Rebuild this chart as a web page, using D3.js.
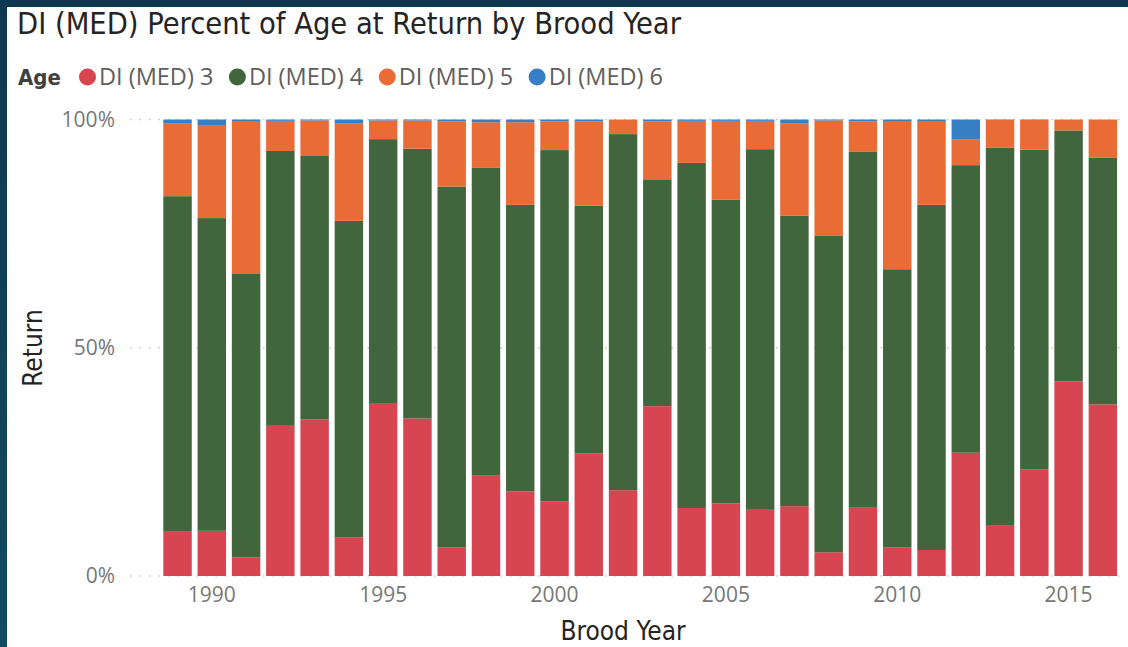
<!DOCTYPE html>
<html>
<head>
<meta charset="utf-8">
<script src="https://cdn.jsdelivr.net/npm/d3@7"></script>
<style>
  body { margin: 0; background: #0f3b52; }
  svg { display: block; }
</style>
</head>
<body>
<div id="chart"></div>
<script>
// brood years and the share of each age at return (percent)
const years = d3.range(1989, 2017)
const age3 = [9.7, 9.9, 4.1, 32.9, 34.3, 8.5, 37.9, 34.5, 6.3, 22.1, 18.5, 16.3, 26.9, 18.8, 37.2, 14.9, 15.9, 14.5, 15.3, 5.2, 15.1, 6.3, 5.7, 27.0, 11.0, 23.4, 42.6, 37.6]
const age4 = [73.5, 68.5, 62.2, 60.2, 57.7, 69.3, 57.8, 59.1, 79.0, 67.3, 62.8, 77.0, 54.2, 78.0, 49.7, 75.6, 66.5, 79.0, 63.6, 69.3, 77.8, 60.9, 75.6, 63.0, 82.8, 70.0, 55.0, 54.0]
const age5 = [16.0, 20.4, 33.2, 6.6, 7.8, 21.4, 4.1, 6.2, 14.3, 10.0, 18.1, 6.3, 18.5, 3.2, 12.7, 9.2, 17.3, 6.2, 20.2, 25.3, 6.7, 32.3, 18.2, 5.6, 6.1, 6.5, 2.4, 8.4]
const age6 = [0.8, 1.2, 0.5, 0.3, 0.2, 0.8, 0.2, 0.2, 0.4, 0.6, 0.6, 0.4, 0.4, 0.0, 0.4, 0.3, 0.3, 0.3, 0.9, 0.2, 0.4, 0.5, 0.5, 4.4, 0.1, 0.1, 0.0, 0.0]
const seriesNames = ["DI (MED) 3", "DI (MED) 4", "DI (MED) 5", "DI (MED) 6"]
const seriesColors = ["#d64550", "#41653d", "#e96b36", "#377fc5"]
const yTicks = [0, 0.5, 1]
const xTickYears = [1990, 1995, 2000, 2005, 2010, 2015]

const W = 1128, H = 647
const titleFont = "'DejaVu Sans Condensed', 'DejaVu Sans', sans-serif"
const labelFont = "'Open Sans', sans-serif"

const svg = d3.select("#chart").append("svg")
    .attr("width", W)
    .attr("height", H)

// dark frame gradient + white card
const grad = svg.append("defs").append("linearGradient")
    .attr("id", "bg").attr("x1", 0).attr("y1", 0).attr("x2", 0).attr("y2", 1)
grad.append("stop").attr("offset", "0%").attr("stop-color", "#0e3850")
grad.append("stop").attr("offset", "100%").attr("stop-color", "#134b62")
svg.append("rect").attr("width", W).attr("height", H).attr("fill", "url(#bg)")
svg.append("rect").attr("x", 7).attr("y", 7).attr("width", W - 7).attr("height", H - 7).attr("fill", "#fff")

// title
svg.append("text")
    .attr("x", 17).attr("y", 34)
    .attr("font-family", titleFont)
    .attr("font-size", 30.5)
    .attr("fill", "#252423")
    .text("DI (MED) Percent of Age at Return by Brood Year")

// legend
const legend = svg.append("g").attr("transform", "translate(18,85)")
legend.append("text")
    .attr("font-family", titleFont)
    .attr("font-weight", "bold")
    .attr("font-size", 22)
    .attr("fill", "#404040")
    .text("Age")
let lx = 69.5
seriesNames.forEach(function(name, i) {
    legend.append("circle")
        .attr("cx", lx).attr("cy", -8).attr("r", 8.5)
        .attr("fill", seriesColors[i])
    const t = legend.append("text")
        .attr("x", lx + 11.5)
        .attr("font-family", labelFont)
        .attr("font-size", 23.5)
        .attr("fill", "#605e5c")
        .text(name)
    lx += 11.5 + t.node().getComputedTextLength() + 24
})

// plot setup
const plotLeft = 160.4, plotRight = 1120, plotTop = 119.5, plotBottom = 576

const x = d3.scaleBand()
    .domain(years)
    .range([plotLeft, plotRight])
    .paddingInner(0.17)
    .paddingOuter(0.085)

const y = d3.scaleLinear()
    .domain([0, 1])
    .range([plotBottom, plotTop])

// dotted gridlines
svg.append("g")
    .selectAll("line")
    .data(yTicks)
    .join("line")
    .attr("x1", 130).attr("x2", plotRight)
    .attr("y1", d => y(d)).attr("y2", d => y(d))
    .attr("stroke", "#c8c6c4")
    .attr("stroke-width", 1.5)
    .attr("stroke-dasharray", "1.5,8")

// y axis labels
const yAxis = svg.append("g")
    .attr("transform", `translate(125,0)`)
    .call(d3.axisLeft(y).tickValues(yTicks).tickFormat(d3.format(".0%")).tickSize(0).tickPadding(10))
yAxis.select(".domain").remove()
yAxis.selectAll("text")
    .attr("font-family", labelFont)
    .attr("font-size", 21)
    .attr("fill", "#777")

// stacked bars
const tableData = years.map(function(yr, i) {
    return { year: yr, s0: age3[i] / 100, s1: age4[i] / 100, s2: age5[i] / 100, s3: age6[i] / 100 }
})
const stack = d3.stack().keys(["s0", "s1", "s2", "s3"])
const stacked = stack(tableData)

svg.append("g")
    .selectAll("g")
    .data(stacked)
    .join("g")
    .attr("fill", (d, i) => seriesColors[i])
    .selectAll("rect")
    .data(d => d)
    .join("rect")
    .attr("x", d => x(d.data.year))
    .attr("width", x.bandwidth())
    .attr("y", d => y(d[1]))
    .attr("height", d => Math.max(0, y(d[0]) - y(d[1])))

// x axis labels
const xAxis = svg.append("g")
    .attr("transform", `translate(0,${plotBottom})`)
    .call(d3.axisBottom(x).tickValues(xTickYears).tickSize(0).tickPadding(11))
xAxis.select(".domain").remove()
xAxis.selectAll("text")
    .attr("font-family", labelFont)
    .attr("font-size", 21)
    .attr("fill", "#777")

// axis titles
svg.append("text")
    .attr("x", 623).attr("y", 640)
    .attr("text-anchor", "middle")
    .attr("font-family", titleFont)
    .attr("font-size", 26)
    .attr("fill", "#252423")
    .text("Brood Year")

svg.append("text")
    .attr("transform", "translate(42,348) rotate(-90)")
    .attr("text-anchor", "middle")
    .attr("font-family", titleFont)
    .attr("font-size", 26)
    .attr("fill", "#252423")
    .text("Return")
</script>
</body>
</html>
